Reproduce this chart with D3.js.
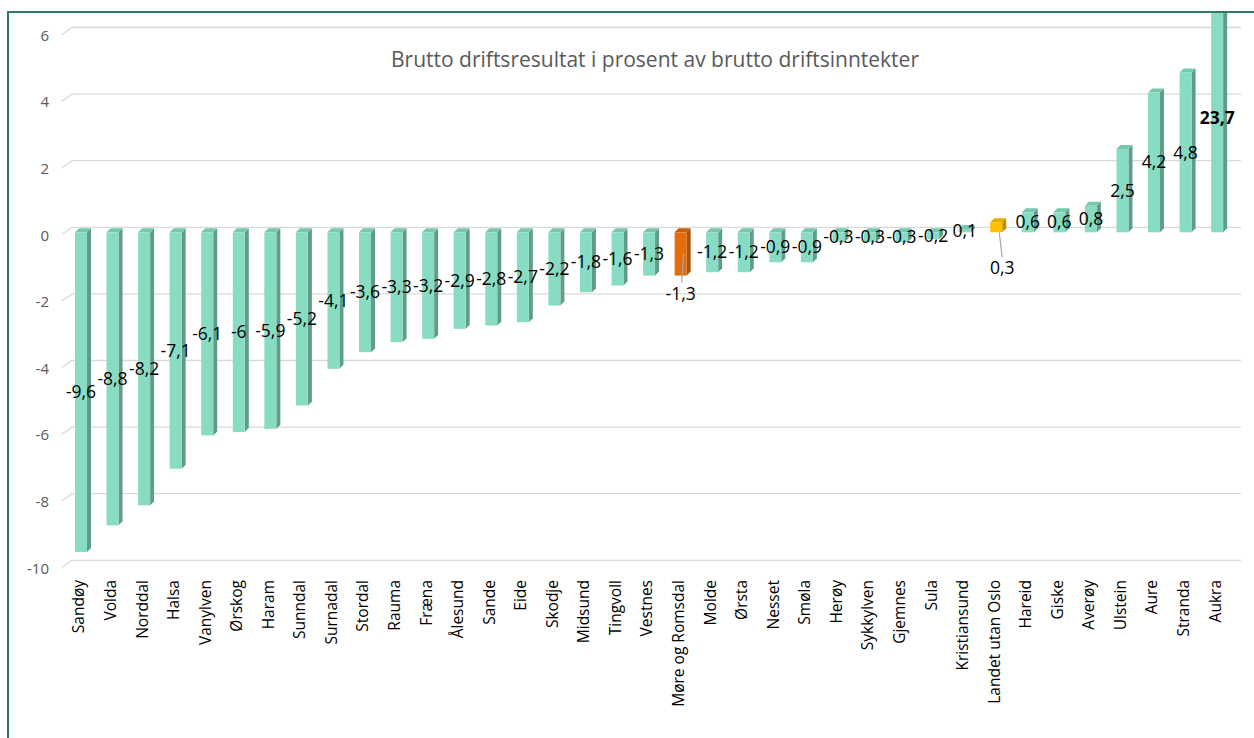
<!DOCTYPE html>
<html>
<head>
<meta charset="utf-8">
<script src="https://cdn.jsdelivr.net/npm/d3@7"></script>
<style>
  body { margin: 0; background: #fff; }
  text { font-family: "Open Sans", "Noto Sans", sans-serif; }
</style>
</head>
<body>
<div id="chart"></div>
<script>
const kommuner = ["Sandøy","Volda","Norddal","Halsa","Vanylven","Ørskog","Haram","Sunndal",
  "Surnadal","Stordal","Rauma","Fræna","Ålesund","Sande","Eide","Skodje","Midsund","Tingvoll",
  "Vestnes","Møre og Romsdal","Molde","Ørsta","Nesset","Smøla","Herøy","Sykkylven","Gjemnes",
  "Sula","Kristiansund","Landet utan Oslo","Hareid","Giske","Averøy","Ulstein","Aure","Stranda","Aukra"];
const verdier = [-9.6,-8.8,-8.2,-7.1,-6.1,-6,-5.9,-5.2,-4.1,-3.6,-3.3,-3.2,-2.9,-2.8,-2.7,-2.2,
  -1.8,-1.6,-1.3,-1.3,-1.2,-1.2,-0.9,-0.9,-0.3,-0.3,-0.3,-0.2,0.1,0.3,0.6,0.6,0.8,2.5,4.2,4.8,23.7];
const yTicks = [-10,-8,-6,-4,-2,0,2,4,6];
const tittel = "Brutto driftsresultat i prosent av brutto driftsinntekter";

const width = 1254, height = 738;
const fylke = "Møre og Romsdal", landet = "Landet utan Oslo";

const farger = {
  vanlig: {front: "#88dcc4", side: "#5f9c89", top: "#78c8b0"},
  fylke:  {front: "#e46c0a", side: "#a9500a", top: "#c75e0a"},
  landet: {front: "#ffc000", side: "#c08f00", top: "#e6ad00"}
};
function getFarge(name) {
  if (name === fylke) return farger.fylke;
  if (name === landet) return farger.landet;
  return farger.vanlig;
}

const data = kommuner.map((k, i) => ({name: k, value: verdier[i]}));

const svg = d3.select("#chart").append("svg")
  .attr("width", width).attr("height", height);

const step = 31.56;
const x = d3.scaleBand().domain(kommuner)
  .range([65.2, 65.2 + kommuner.length * step])
  .paddingInner(0.62).paddingOuter(0.31);
const y = d3.scaleLinear().domain([-10, 6]).range([565.3, 32.5]);

const dx = 4, dy = 4;   // bar depth
const topClip = 13;

// gridlines on the back wall
const grid = svg.append("g").attr("id", "grid");
yTicks.forEach(t => {
  const yy = y(t);
  grid.append("path")
    .attr("d", `M62,${yy + 2}L72,${yy - 5}H1241`)
    .attr("fill", "none").attr("stroke", "#d9d9d9").attr("stroke-width", 1.3);
});

// y tick labels
svg.append("g").selectAll("text").data(yTicks).enter().append("text")
  .attr("x", 49).attr("y", d => y(d) + 3)
  .attr("dy", "0.35em").attr("text-anchor", "end")
  .attr("fill", "#595959").attr("font-size", 15)
  .text(d => d);

// bars
const bars = svg.append("g").attr("id", "bars");
data.forEach(d => {
  const c = getFarge(d.name);
  const x0 = x(d.name), w = x.bandwidth();
  let yTop = Math.min(y(d.value), y(0));
  const yBot = Math.max(y(d.value), y(0));
  const clipped = yTop < topClip;
  if (clipped) yTop = topClip;
  const g = bars.append("g");
  g.append("polygon")
    .attr("points", [[x0 + w, yTop], [x0 + w + dx, yTop - (clipped ? 0 : dy)], [x0 + w + dx, yBot - dy], [x0 + w, yBot]].join(" "))
    .attr("fill", c.side);
  if (!clipped) {
    g.append("polygon")
      .attr("points", [[x0, yTop], [x0 + dx, yTop - dy], [x0 + w + dx, yTop - dy], [x0 + w, yTop]].join(" "))
      .attr("fill", c.top);
  }
  g.append("rect")
    .attr("x", x0).attr("y", yTop)
    .attr("width", w).attr("height", yBot - yTop)
    .attr("fill", c.front);
});

// leader lines for moved labels
function labelPos(d) {
  const cx = x(d.name) + x.bandwidth() / 2;
  if (d.name === fylke) return {x: cx, y: y(d.value) + 18};
  if (d.name === landet) return {x: cx + 6, y: y(0) + 36};
  const yTop = Math.max(Math.min(y(d.value), y(0)), topClip);
  const yBot = Math.max(y(d.value), y(0));
  return {x: cx, y: (yTop + yBot) / 2 - (d.value > 20 ? 5 : 0)};
}
data.filter(d => d.name === fylke || d.name === landet).forEach(d => {
  const cx = x(d.name) + x.bandwidth() / 2;
  const p = labelPos(d);
  const y1 = d.name === fylke ? y(d.value) - 22 : y(d.value) + 10;
  svg.append("line")
    .attr("x1", cx + 3).attr("y1", y1)
    .attr("x2", d.name === fylke ? cx + 1 : cx + 6).attr("y2", p.y - 11)
    .attr("stroke", "#a6a6a6").attr("stroke-width", 1.2);
});

// data labels
svg.append("g").selectAll("text").data(data).enter().append("text")
  .attr("x", d => labelPos(d).x)
  .attr("y", d => labelPos(d).y)
  .attr("dy", "0.35em").attr("text-anchor", "middle")
  .attr("font-size", 17.5).attr("fill", "#000")
  .attr("font-weight", d => d.value > 20 ? "bold" : "normal")
  .text(d => String(d.value).replace(".", ","));

// category labels
svg.append("g").selectAll("text").data(kommuner).enter().append("text")
  .attr("transform", d => `translate(${x(d) + x.bandwidth() / 2 - 2},580) rotate(-90)`)
  .attr("dy", "0.35em").attr("text-anchor", "end")
  .attr("font-size", 15.5).attr("fill", "#000")
  .text(d => d);

// title
svg.append("text")
  .attr("x", 655).attr("y", 67)
  .attr("text-anchor", "middle")
  .attr("font-size", 21).attr("fill", "#595959")
  .text(tittel);

// chart border
svg.append("path")
  .attr("d", `M8,${height}V12H${width}`)
  .attr("fill", "none").attr("stroke", "#2e7b60").attr("stroke-width", 2);
</script>
</body>
</html>
